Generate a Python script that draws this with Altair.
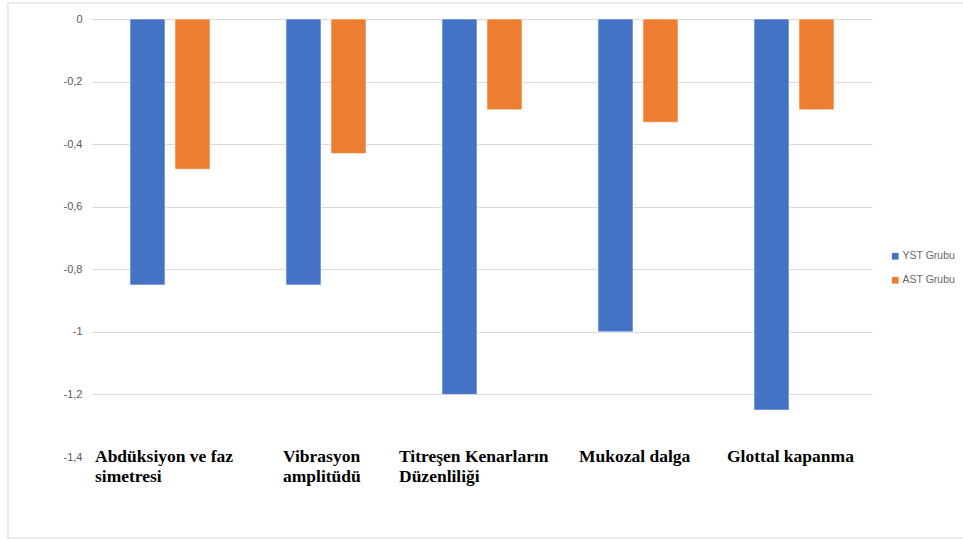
import altair as alt
import pandas as pd

categories = [
    "Abdüksiyon ve faz|simetresi",
    "Vibrasyon|amplitüdü",
    "Titreşen Kenarların|Düzenliliği",
    "Mukozal dalga",
    "Glottal kapanma",
]
groups = ["YST Grubu", "AST Grubu"]
yst = [-0.85, -0.85, -1.20, -1.00, -1.25]
ast = [-0.48, -0.43, -0.29, -0.33, -0.29]
y_ticks = [0, -0.2, -0.4, -0.6, -0.8, -1, -1.2, -1.4]
colors = ["#4472C4", "#ED7D31"]

rows = []
for c, a, b in zip(categories, yst, ast):
    rows.append({"kategori": c, "grup": groups[0], "deger": a})
    rows.append({"kategori": c, "grup": groups[1], "deger": b})
df = pd.DataFrame(rows)

# left-aligned multi-line labels, block roughly centred under each group
label_conditions = []
for c in categories:
    longest = max(len(part) for part in c.split("|"))
    label_conditions.append({"test": f"datum.value == '{c}'", "value": -round(longest * 4.0) - 7})

bars = alt.Chart(df).mark_bar(stroke="white", strokeWidth=0.8, strokeOpacity=0.7).encode(
    x=alt.X(
        "kategori:N",
        sort=categories,
        scale=alt.Scale(paddingInner=0.487, paddingOuter=0.2435),
        axis=alt.Axis(
            title=None,
            orient="bottom",
            domain=False,
            ticks=False,
            labelAngle=0,
            labelFont="Liberation Serif",
            labelFontSize=17.5,
            labelFontWeight="bold",
            labelColor="#000000",
            labelAlign="left",
            labelOffset={"condition": label_conditions, "value": -64},
            labelBaseline="top",
            labelLineHeight=20,
            labelPadding=-10,
            labelLimit=0,
            labelExpr="split(datum.label, '|')",
        ),
    ),
    xOffset=alt.XOffset(
        "grup:N",
        sort=groups,
        scale=alt.Scale(paddingInner=0.222, paddingOuter=0),
    ),
    y=alt.Y(
        "deger:Q",
        scale=alt.Scale(domain=[-1.4, 0], nice=False, zero=False),
        axis=alt.Axis(
            title=None,
            values=y_ticks,
            domain=False,
            ticks=False,
            labelFont="Liberation Sans",
            labelFontSize=11,
            labelColor="#595959",
            labelPadding=10,
            gridColor="#d9d9d9",
            gridWidth=1,
            gridOpacity={"condition": {"test": "datum.value < -1.3", "value": 0}, "value": 1},
            labelExpr="replace(toString(datum.value), '.', ',')",
        ),
    ),
    color=alt.Color(
        "grup:N",
        sort=groups,
        scale=alt.Scale(domain=groups, range=colors),
        legend=alt.Legend(
            title=None,
            orient="none",
            legendX=798,
            legendY=232,
            symbolType="square",
            symbolSize=45,
            symbolStrokeWidth=0,
            labelFont="Liberation Sans",
            labelFontSize=10.5,
            labelColor="#666666",
            labelOffset=2,
            rowPadding=13,
        ),
    ),
)

frame = alt.Chart(alt.Data(values=[{}])).mark_rect(
    fill=None, stroke="#d9d9d9", strokeWidth=1.2
).encode(
    x=alt.value(-84), x2=alt.value(900), y=alt.value(-16), y2=alt.value(519)
)

chart = alt.layer(frame, bars).properties(
    width=780,
    height=438,
    autosize=alt.AutoSizeParams(type="none"),
    padding={"left": 92, "top": 19, "right": 91, "bottom": 83},
    background="white",
).configure_view(stroke=None)

chart.save("out.html", embed_options={"renderer": "svg", "actions": False})
